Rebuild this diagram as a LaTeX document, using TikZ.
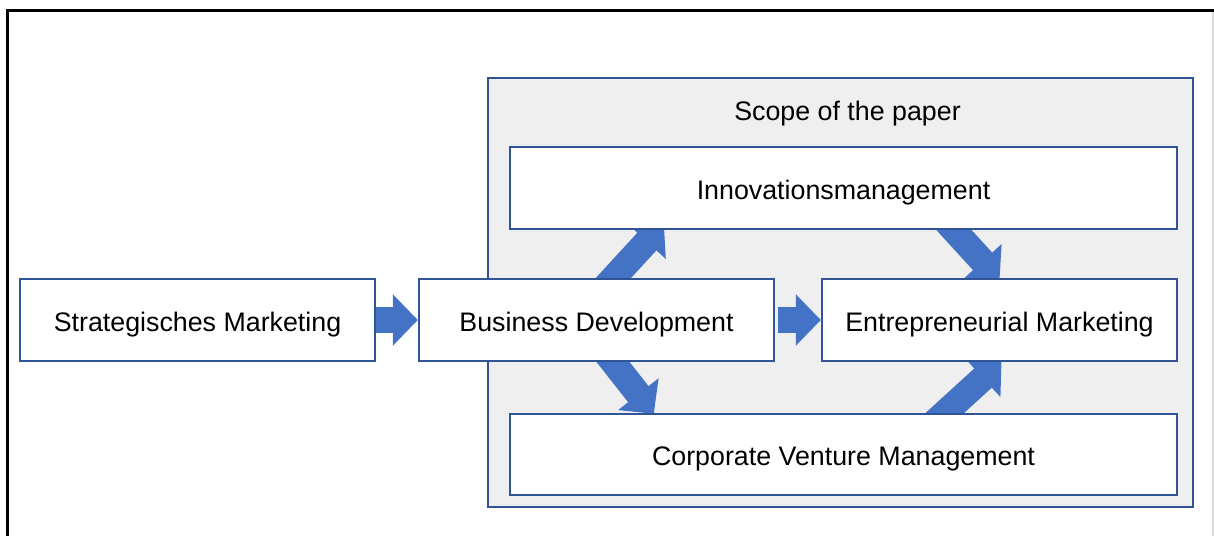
\documentclass[tikz,border=0pt]{standalone}
\usepackage{fontspec}
\setmainfont{Liberation Sans}
\usetikzlibrary{calc,positioning,arrows.meta}
\definecolor{boxblue}{HTML}{2F5597}
\definecolor{arrowblue}{HTML}{4472C4}
\definecolor{scopegrey}{HTML}{EFEFEF}
\pgfdeclarelayer{back}
\pgfdeclarelayer{mid}
\pgfsetlayers{back,mid,main}
\tikzset{
	every node/.style={text height=11.1pt, text depth=0pt},
	area/.style={draw=boxblue, line width=1.2pt, fill=scopegrey, minimum width=352.5pt, minimum height=214.5pt},
	field/.style={draw=boxblue, line width=1.2pt, fill=white, minimum width=177.5pt, minimum height=41pt, inner sep=0pt},
	widefield/.style={field, minimum width=333.5pt},
	blockarrow/.style={arrowblue, line width=13pt, -{Triangle[length=12.5pt, width=25pt]}}
}
\begin{document}
\begin{tikzpicture}[x=0.5pt, y=-0.5pt, font=\fontsize{13.4}{16}\selectfont]
			\useasboundingbox (0,0) rectangle (1214,536);
			\draw[line width=1.5pt] (1214,10) -- (7,10) -- (7,536);
			\draw[black!15, line width=0.8pt] (1213,12) -- (1213,536);
			
			\node[field] (sm) at (197.5,320) {Strategisches Marketing};
			\node[field, right=20.8pt of sm] (bd) {Business Development};
			\node[field, right=22.8pt of bd] (em) {Entrepreneurial Marketing};
			\node[widefield] (inno) at (843.5,188) {Innovationsmanagement};
			\node[widefield, minimum height=40.5pt] (cvm) at (843.5,454.5) {Corporate Venture Management};
			
			\begin{pgfonlayer}{back}
				\node[area] (scope) at (840.5,292.5) {};
				\node at ($(scope.north)+(7,32.5)$) (scopelabel) {Scope of the paper};
			\end{pgfonlayer}
			
			\begin{pgfonlayer}{mid}
				\draw[blockarrow] (sm.east) -- (bd.west);
				\draw[blockarrow] (bd.east) ++(3,0) -- (em.west);
				\draw[blockarrow] ($(bd.north)+(-11.5,31)$) -- ($(inno.south west)+(155,-7)$);
				\draw[blockarrow] ($(bd.north)+(-17.5,41)$) -- ($(cvm.north west)+(145,1)$);
				\draw[blockarrow] ($(inno.south east)+(-258,-37)$) -- ($(em.north)+(0,2)$);
				\draw[blockarrow] ($(cvm.north east)+(-265,29)$) -- ($(em.south)+(2,-1)$);
			\end{pgfonlayer}
		\end{tikzpicture}
\end{document}
